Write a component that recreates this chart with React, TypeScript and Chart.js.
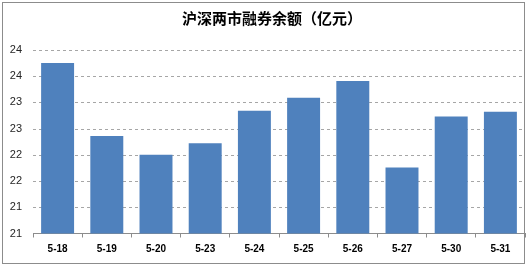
import React, { useEffect, useRef } from "react";
import { Chart, registerables } from "chart.js";

Chart.register(...registerables);

const TITLE = "沪深两市融券余额（亿元）";
const categories = ["5-18", "5-19", "5-20", "5-23", "5-24", "5-25", "5-26", "5-27", "5-30", "5-31"];
const balances = [24.25, 22.86, 22.5, 22.72, 23.34, 23.59, 23.91, 22.26, 23.23, 23.32];
const yMin = 21;
const yMax = 24.5;
const yStep = 0.5;

const framePlugin = {
  id: "frameAndTitle",
  beforeDraw(chart: any) {
    const ctx = chart.ctx;
    ctx.save();
    ctx.fillStyle = "#ffffff";
    ctx.fillRect(0, 0, chart.width, chart.height);
    ctx.strokeStyle = "#8c8c8c";
    ctx.lineWidth = 1;
    ctx.strokeRect(2.5, 2.5, 522, 261);
    ctx.fillStyle = "#000000";
    ctx.font = "bold 15px 'Noto Sans CJK SC', sans-serif";
    ctx.textAlign = "center";
    ctx.textBaseline = "middle";
    ctx.fillText(TITLE, 272, 18);
    ctx.restore();
  },
  beforeDatasetsDraw(chart: any) {
    const ctx = chart.ctx;
    const y = chart.scales.y;
    const area = chart.chartArea;
    ctx.save();
    ctx.strokeStyle = "#a6a6a6";
    ctx.lineWidth = 1;
    ctx.setLineDash([3, 3]);
    y.ticks.forEach((t: any) => {
      if (t.value === yMin) return;
      const py = Math.round(y.getPixelForValue(t.value)) + 0.5;
      ctx.beginPath();
      ctx.moveTo(area.left, py);
      ctx.lineTo(area.right, py);
      ctx.stroke();
    });
    ctx.restore();
  },
};

export default function App() {
  const ref = useRef<HTMLCanvasElement>(null);
  useEffect(() => {
    if (!ref.current) return;
    const chart = new Chart(ref.current, {
      type: "bar",
      data: {
        labels: categories,
        datasets: [
          {
            data: balances,
            backgroundColor: "#4F81BD",
            borderWidth: 0,
            categoryPercentage: 1,
            barPercentage: 0.67,
          },
        ],
      },
      options: {
        animation: false,
        responsive: false,
        events: [],
        layout: { padding: { top: 50, right: 4, left: 0, bottom: 0 } },
        plugins: { legend: { display: false }, title: { display: false }, tooltip: { enabled: false } },
        scales: {
          x: {
            afterFit: (s: any) => { s.height = 34.5; },
            grid: {
              offset: true,
              drawOnChartArea: false,
              drawTicks: true,
              tickLength: 4,
              color: "#8c8c8c",
            },
            border: { display: true, color: "#8c8c8c", width: 1 },
            ticks: {
              color: "#000000",
              padding: 6,
              font: { family: "'Liberation Sans', sans-serif", size: 10, weight: "bold" },
            },
          },
          y: {
            min: yMin,
            max: yMax,
            afterFit: (s: any) => { s.width = 33; },
            grid: { display: false, drawTicks: false },
            border: { display: false },
            ticks: {
              stepSize: yStep,
              padding: 11,
              color: "#262626",
              font: { family: "'Liberation Sans', sans-serif", size: 11 },
              callback: (v: any) => String(Math.floor(Number(v))),
            },
          },
        },
      },
      plugins: [framePlugin],
    });
    return () => chart.destroy();
  }, []);
  return (
    <div style={{ position: "fixed", left: 0, top: 0, width: 529, height: 268 }}>
      <canvas ref={ref} width={529} height={268} style={{ display: "block" }} />
    </div>
  );
}
